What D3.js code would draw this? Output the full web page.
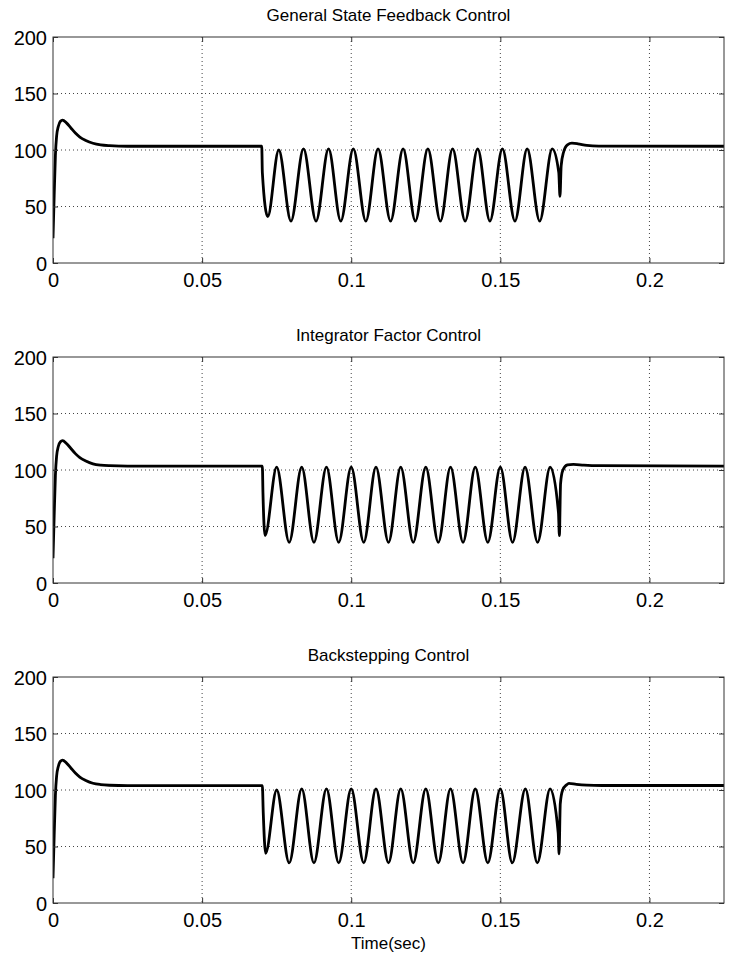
<!DOCTYPE html>
<html>
<head>
<meta charset="utf-8">
<script src="https://cdn.jsdelivr.net/npm/d3@7"></script>
<style>
  body { margin: 0; background: #fff; }
  svg { display: block; }
</style>
</head>
<body>
<div id="chart"></div>
<script>
const titles = ['General State Feedback Control', 'Integrator Factor Control', 'Backstepping Control'];
const xTicks = [0, 0.05, 0.1, 0.15, 0.2];
const yTicks = [0, 50, 100, 150, 200];

// General State Feedback Control
const gsfT = [0, 0.0004, 0.0008, 0.0012, 0.0018, 0.0025, 0.0032, 0.0045, 0.006, 0.0075, 0.009, 0.011, 0.0134, 0.016, 0.019, 0.025, 0.07,
  0.0702, 0.072, 0.0757, 0.0798, 0.084, 0.0882, 0.0924, 0.0965, 0.1007, 0.1049, 0.109, 0.1132, 0.1174, 0.1215, 0.1257, 0.1299,
  0.134, 0.1382, 0.1424, 0.1465, 0.1507, 0.1549, 0.159, 0.1632, 0.1674,
  0.1696, 0.17, 0.1704, 0.1712, 0.1725, 0.174, 0.176, 0.179, 0.183, 0.225];
const gsfV = [22, 60, 95, 112, 121, 125.5, 126.5, 124, 119.5, 115, 111.5, 108.5, 106, 104.5, 103.8, 103.3, 103.3,
  80, 41, 100, 37, 101, 37, 101, 37, 101, 37, 101, 37, 101, 37, 101, 37,
  101, 37, 101, 37, 101, 37, 101, 37, 101,
  80, 59, 86, 98, 104.5, 106, 105.5, 104, 103.5, 103.3];

// Integrator Factor Control
const ifcT = [0, 0.0004, 0.0008, 0.0012, 0.0018, 0.0025, 0.0032, 0.0045, 0.006, 0.0075, 0.009, 0.011, 0.0134, 0.016, 0.019, 0.025, 0.0702,
  0.0704, 0.0711, 0.075, 0.0792, 0.0834, 0.0875, 0.0917, 0.0958, 0.1, 0.1042, 0.1083, 0.1125, 0.1166, 0.1208, 0.125, 0.1292,
  0.1333, 0.1375, 0.1416, 0.1458, 0.15, 0.1541, 0.1583, 0.1625, 0.1667,
  0.1695, 0.1698, 0.1702, 0.171, 0.1725, 0.1745, 0.178, 0.183, 0.225];
const ifcV = [22, 60, 95, 112, 121, 125, 126, 123.5, 119, 114.5, 111, 108, 105.5, 104.3, 103.8, 103.5, 103.5,
  80, 42, 102.5, 36, 102.5, 36, 102.5, 36, 102.5, 36, 102.5, 36, 102.5, 36, 102.5, 36,
  102.5, 36, 102.5, 36, 102.5, 36, 102.5, 36, 102.5,
  62, 42, 88, 100, 104.5, 105, 104.3, 103.8, 103.5];

// Backstepping Control
const bsT = [0, 0.0004, 0.0008, 0.0012, 0.0018, 0.0025, 0.0032, 0.0045, 0.006, 0.0075, 0.009, 0.011, 0.0134, 0.016, 0.019, 0.025, 0.0702,
  0.0705, 0.0713, 0.075, 0.0792, 0.0834, 0.0875, 0.0917, 0.0958, 0.1, 0.1042, 0.1083, 0.1125, 0.1166, 0.1208, 0.125, 0.1292,
  0.1333, 0.1375, 0.1416, 0.1458, 0.15, 0.154, 0.1584, 0.1624, 0.1667,
  0.1694, 0.1697, 0.1701, 0.1709, 0.1722, 0.173, 0.1755, 0.179, 0.184, 0.225];
const bsV = [22, 60, 95, 112, 121, 125.5, 126.5, 124, 119.5, 115, 111.5, 108.5, 106, 104.8, 104.2, 103.8, 103.8,
  80, 44, 100, 35.5, 101, 35.5, 101, 35.5, 101, 35.5, 101, 35.5, 101, 35.5, 101, 35.5,
  101, 35.5, 101, 35.5, 101, 35.5, 101, 35.5, 101,
  62, 43.5, 88, 100, 104.5, 105.8, 105, 104.3, 104, 104];

const seriesT = [gsfT, ifcT, bsT];
const seriesV = [gsfV, ifcV, bsV];

const width = 730;
const height = 957;
const left = 53, right = 724;
const tops = [37, 357, 677];
const ph = 226;
const pw = right - left;
const font = '"Liberation Sans", Arial, Helvetica, sans-serif';

const svg = d3.select('#chart')
  .append('svg')
  .attr('width', width)
  .attr('height', height)
  .style('background', '#fff');

const x = d3.scaleLinear().domain([0, 0.225]).range([0, pw]);
const y = d3.scaleLinear().domain([0, 200]).range([ph, 0]);

const line = d3.line()
  .x(d => x(d[0]))
  .y(d => y(d[1]))
  .curve(d3.curveMonotoneX);

tops.forEach((top, k) => {
  const g = svg.append('g').attr('transform', `translate(${left},${top})`);

  // grid
  g.append('g')
    .selectAll('line')
    .data(xTicks.filter(d => d > 0))
    .join('line')
      .attr('x1', d => x(d)).attr('x2', d => x(d))
      .attr('y1', 0).attr('y2', ph)
      .attr('stroke', '#444').attr('stroke-width', 1)
      .attr('stroke-dasharray', '1,3');
  g.append('g')
    .selectAll('line')
    .data(yTicks.filter(d => d > 0 && d < 200))
    .join('line')
      .attr('x1', 0).attr('x2', pw)
      .attr('y1', d => y(d)).attr('y2', d => y(d))
      .attr('stroke', '#444').attr('stroke-width', 1)
      .attr('stroke-dasharray', '1,3');

  // data
  const clipId = 'clip' + k;
  g.append('clipPath').attr('id', clipId)
    .append('rect').attr('width', pw).attr('height', ph);
  const pts = seriesT[k].map((t, i) => [t, seriesV[k][i]]);
  g.append('path')
    .datum(pts)
    .attr('clip-path', `url(#${clipId})`)
    .attr('fill', 'none')
    .attr('stroke', '#000')
    .attr('stroke-width', 2.8)
    .attr('stroke-linejoin', 'round')
    .attr('d', line);

  // axes with inward ticks
  const xb = g.append('g').attr('transform', `translate(0,${ph})`)
    .call(d3.axisBottom(x).tickValues(xTicks).tickFormat(d => d).tickSizeInner(-5).tickSizeOuter(0).tickPadding(10));
  const yl = g.append('g')
    .call(d3.axisLeft(y).tickValues(yTicks).tickSizeInner(-5).tickSizeOuter(0).tickPadding(6));
  const xt = g.append('g')
    .call(d3.axisTop(x).tickValues(xTicks).tickFormat('').tickSizeInner(-5).tickSizeOuter(0));
  const yr = g.append('g').attr('transform', `translate(${pw},0)`)
    .call(d3.axisRight(y).tickValues(yTicks).tickFormat('').tickSizeInner(-5).tickSizeOuter(0));

  [xb, yl, xt, yr].forEach(a => {
    a.select('.domain').remove();
    a.selectAll('.tick line').attr('stroke', '#333');
    a.selectAll('text')
      .attr('font-family', font)
      .attr('font-size', 20)
      .attr('fill', '#000');
  });
  xb.selectAll('text').attr('dy', '0.71em');
  yl.selectAll('text').attr('dy', '0.35em');

  // box
  g.append('rect')
    .attr('width', pw).attr('height', ph)
    .attr('fill', 'none')
    .attr('stroke', '#333')
    .attr('stroke-width', 1);

  // title
  g.append('text')
    .attr('x', pw / 2)
    .attr('y', -16)
    .attr('text-anchor', 'middle')
    .attr('font-family', font)
    .attr('font-size', 17)
    .attr('fill', '#000')
    .text(titles[k]);
});

svg.append('text')
  .attr('x', left + pw / 2)
  .attr('y', tops[2] + ph + 46)
  .attr('text-anchor', 'middle')
  .attr('font-family', font)
  .attr('font-size', 17)
  .attr('fill', '#000')
  .text('Time(sec)');
</script>
</body>
</html>
